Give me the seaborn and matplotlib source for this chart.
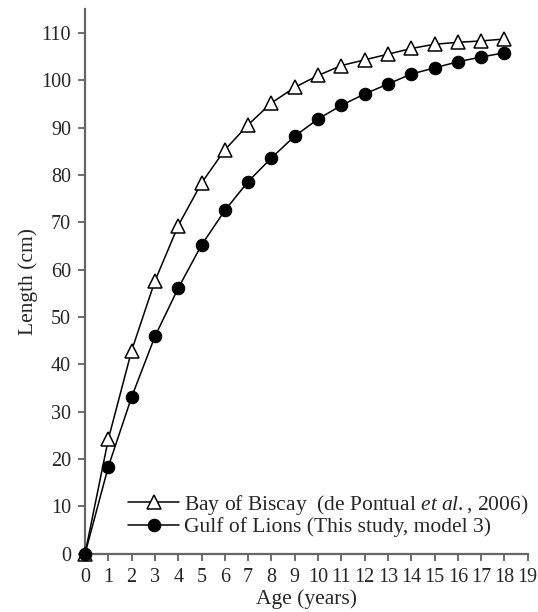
import numpy as np
import pandas as pd
import matplotlib
matplotlib.use("Agg")
import matplotlib.pyplot as plt
import seaborn as sns

# Data
ages = list(range(0, 19))
biscay = [0, 24.2, 42.9, 57.6, 69.3, 78.3, 85.3, 90.6, 95.2, 98.5,
          101.0, 103.1, 104.3, 105.5, 106.7, 107.6, 108.0, 108.3, 108.7]
lions = [0, 18.4, 33.1, 45.9, 56.1, 65.2, 72.5, 78.6, 83.6, 88.2,
         91.8, 94.7, 97.1, 99.2, 101.3, 102.6, 103.9, 104.9, 105.8]
biscay_label = "Bay of Biscay  (de Pontual $\\mathit{et\\ al.}$, 2006)"
lions_label = "Gulf of Lions (This study, model 3)"

sns.set_style("white")
plt.rcParams["font.family"] = ["Liberation Serif", "DejaVu Serif"]
plt.rcParams["mathtext.fontset"] = "custom"
plt.rcParams["mathtext.rm"] = "Liberation Serif"
plt.rcParams["mathtext.it"] = "Liberation Serif:italic"

fig = plt.figure(figsize=(5.38, 6.12), dpi=100)
ax = fig.add_axes([0.158, 0.095, 0.823, 0.89])

sns.lineplot(x=ages, y=biscay, ax=ax, color="black", linewidth=1.1,
             marker="^", markersize=10, markerfacecolor="white",
             markeredgecolor="black", markeredgewidth=1.1,
             label=biscay_label, clip_on=False, zorder=3)
sns.lineplot(x=ages, y=lions, ax=ax, color="black", linewidth=1.1,
             marker="o", markersize=9, markerfacecolor="black",
             markeredgecolor="black", label=lions_label, clip_on=False,
             zorder=3)

ax.set_xlim(0, 19)
ax.set_ylim(0, 115)
ax.set_xticks(range(0, 20))
ax.set_yticks(range(0, 111, 10))
ax.tick_params(axis="both", direction="out", length=5, width=1.2,
               color="#555555", labelsize=14.5, bottom=True, left=True)
ax.tick_params(axis="y", pad=5)
ax.tick_params(axis="x", pad=5)
for side in ["top", "right"]:
    ax.spines[side].set_visible(False)
for side in ["left", "bottom"]:
    ax.spines[side].set_color("#666666")
    ax.spines[side].set_linewidth(1.6)

ax.set_xlabel("Age (years)", fontsize=15.5, labelpad=2)
ax.set_ylabel("Length (cm)", fontsize=15.5, labelpad=2)

ax.legend(loc="lower right", bbox_to_anchor=(1.02, 0.015), frameon=False,
          fontsize=15.5, handlelength=2.4, handletextpad=0.2,
          labelspacing=0.0, borderaxespad=0)

fig.savefig("out.png", dpi=100)
